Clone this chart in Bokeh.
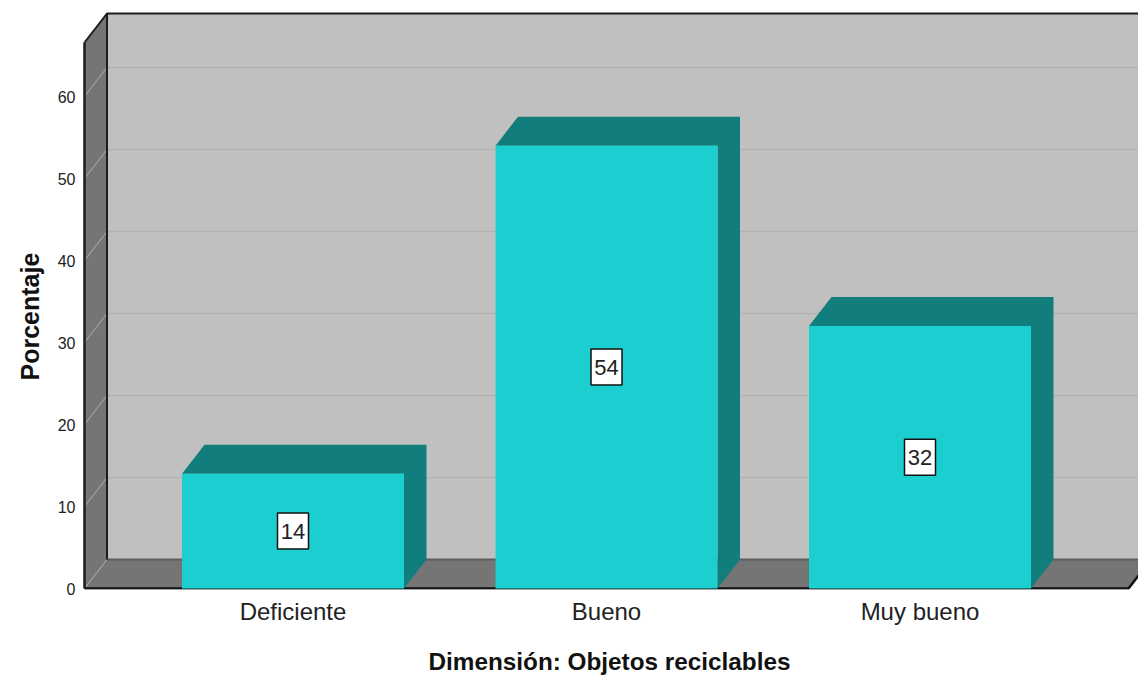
from bokeh.plotting import figure
from bokeh.models import Range1d, FixedTicker, Title
from bokeh.core.properties import value
from bokeh.embed import file_html
from bokeh.resources import INLINE

categories = ["Deficiente", "Bueno", "Muy bueno"]
percent = [14, 54, 32]
y_ticks = [0, 10, 20, 30, 40, 50, 60]

FONT = "Liberation Sans"
PX_X = 313.5   # pixels per category step
PX_Y = 8.2     # pixels per percent
DX = 22.5 / PX_X   # depth offset in x units
DY = 29 / PX_Y     # depth offset in y units
BAR_W = 222 / PX_X
FRONT_L = (84 - 292.5) / PX_X
FRONT_R = (1128 - 292.5) / PX_X
WALL_TOP = 575 / PX_Y
W, H = 1138, 677

xs = list(range(len(categories)))

p = figure(width=W, height=H, output_backend="svg", toolbar_location=None,
           x_range=Range1d((80 - 292.5) / PX_X, (1138 - 292.5) / PX_X),
           y_range=Range1d(-1 / PX_Y, 578 / PX_Y),
           min_border_left=80, min_border_right=0, min_border_top=10, min_border_bottom=86)
p.outline_line_color = None
p.xgrid.visible = False
p.ygrid.visible = False
p.background_fill_color = "white"

BACK_L = FRONT_L + DX
BACK_R = FRONT_R + DX
WALL = "#c0c0c0"
SIDE = "#757575"

# back wall, left wall, floor
p.patch([BACK_L, BACK_R, BACK_R, BACK_L], [DY, DY, WALL_TOP, WALL_TOP], fill_color=WALL, line_color=None)
p.patch([FRONT_L, BACK_L, BACK_L, FRONT_L], [0, DY, WALL_TOP, WALL_TOP - DY], fill_color=SIDE, line_color=None)
p.patch([FRONT_L, FRONT_R, BACK_R, BACK_L], [0, 0, DY, DY], fill_color=SIDE, line_color=None)

# grid lines
for t in y_ticks:
    if t > 0:
        p.line([BACK_L, BACK_R], [t + DY, t + DY], line_color="#b2b2b2", line_width=1.5)
    p.line([FRONT_L, BACK_L], [t, t + DY], line_color="#a2a2a2", line_width=1.2)

# frame edges
p.line([BACK_L, BACK_R], [DY, DY], line_color="#5c5c5c", line_width=2)
p.line([BACK_L, BACK_L], [DY, WALL_TOP], line_color="#1c1c1c", line_width=2)
p.line([FRONT_L, BACK_L, BACK_R], [WALL_TOP - DY, WALL_TOP, WALL_TOP], line_color="#1c1c1c", line_width=2)
p.line([FRONT_L, FRONT_L], [0, WALL_TOP - DY], line_color="#1c1c1c", line_width=2.5)
p.line([FRONT_L, FRONT_R, BACK_R], [0, 0, DY], line_color="#111111", line_width=2.5)

# 3D bars: top and side as one shape so no seam shows
for x, v in zip(xs, percent):
    l, r = x - BAR_W / 2, x + BAR_W / 2
    p.patch([l, r, r, r + DX, r + DX, l + DX], [v, v, 0, DY, v + DY, v + DY],
            fill_color="#127d7d", line_color=None)
p.vbar(x=xs, top=percent, bottom=0, width=BAR_W, fill_color="#1bcfd0", line_color=None)

# data labels
mids = [v / 2 for v in percent]
p.rect(x=xs, y=mids, width=31, height=36, width_units="screen", height_units="screen",
       fill_color="white", line_color="#111111", line_width=1.5)
p.text(x=xs, y=mids, text=[str(v) for v in percent], text_align="center", text_baseline="middle",
       text_font=value(FONT), text_font_size="22px", text_color="#222222")

# axes
p.xaxis.ticker = FixedTicker(ticks=xs)
p.xaxis.major_label_overrides = {x: c for x, c in zip(xs, categories)}
p.xaxis.axis_line_color = None
p.xaxis.major_tick_line_color = None
p.xaxis.minor_tick_line_color = None
p.xaxis.major_tick_out = 0
p.xaxis.major_label_text_font = FONT
p.xaxis.major_label_text_font_size = "24px"
p.xaxis.major_label_text_color = "#222222"
p.xaxis.major_label_standoff = 8
p.xaxis.axis_label = "Dimensión: Objetos reciclables"
p.xaxis.axis_label_text_font = FONT
p.xaxis.axis_label_text_font_style = "bold"
p.xaxis.axis_label_text_font_size = "24.3px"
p.xaxis.axis_label_text_color = "#111111"
p.xaxis.axis_label_standoff = 20

p.yaxis.ticker = FixedTicker(ticks=y_ticks)
p.yaxis.axis_line_color = None
p.yaxis.major_tick_line_color = None
p.yaxis.minor_tick_line_color = None
p.yaxis.major_tick_out = 0
p.yaxis.major_label_text_font = FONT
p.yaxis.major_label_text_font_size = "16px"
p.yaxis.major_label_text_color = "#222222"
p.yaxis.major_label_standoff = 5

# y title is centred on the left wall, not on the frame
p.add_layout(Title(text="Porcentaje", align="left", vertical_align="top", offset=209, standoff=18,
                   text_font=FONT, text_font_style="bold", text_font_size="25px",
                   text_color="#111111"), "left")

open("out.html", "w").write(file_html(p, INLINE))
